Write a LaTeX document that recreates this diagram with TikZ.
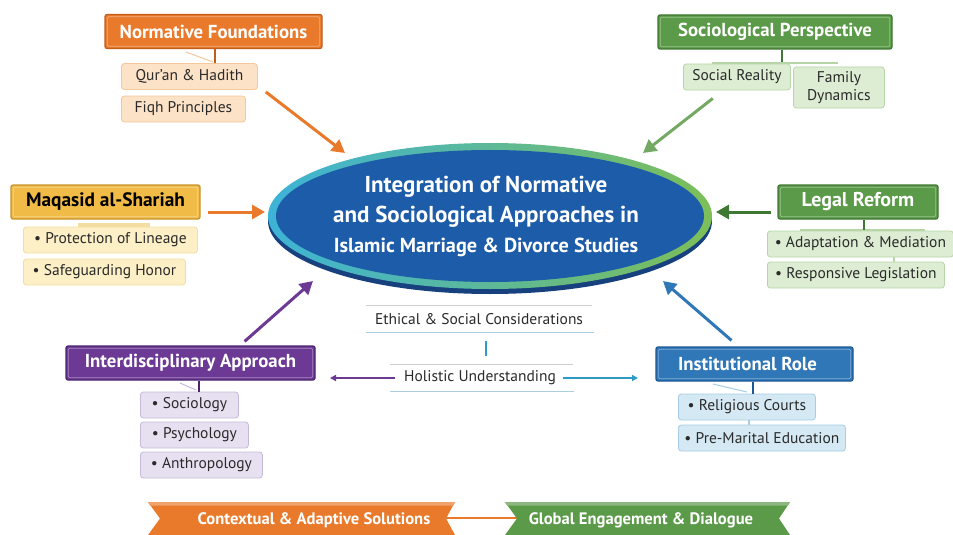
\documentclass[tikz,border=0pt]{standalone}
\usepackage{fontspec}
\setmainfont{PT Sans}
\usetikzlibrary{shapes.geometric,arrows.meta,calc}

% palette
\definecolor{orH}{HTML}{E97A2B}\definecolor{orD}{HTML}{C25E1A}
\definecolor{orL}{HTML}{FCE2C6}\definecolor{orB}{HTML}{F4C89C}
\definecolor{gdH}{HTML}{F1BB47}\definecolor{gdD}{HTML}{C8932A}
\definecolor{gdL}{HTML}{FDEFC6}\definecolor{gdB}{HTML}{F4DDA0}
\definecolor{grH}{HTML}{5B9A48}\definecolor{grD}{HTML}{3E7832}
\definecolor{grL}{HTML}{DDEDD3}\definecolor{grB}{HTML}{B8D5A8}
\definecolor{puH}{HTML}{6C3A95}\definecolor{puD}{HTML}{4D2370}
\definecolor{puL}{HTML}{E7E0F0}\definecolor{puB}{HTML}{C6BADB}
\definecolor{blH}{HTML}{2F77B7}\definecolor{blD}{HTML}{1D5895}
\definecolor{blL}{HTML}{D4E9F4}\definecolor{blB}{HTML}{A6CDE3}
\definecolor{core}{HTML}{1D5CA8}\definecolor{coreD}{HTML}{17407E}
\definecolor{ringL}{HTML}{3DB3D6}\definecolor{ringR}{HTML}{7DBE58}
\definecolor{txt}{HTML}{2A2A2A}
\definecolor{rule}{HTML}{CFCFCF}\definecolor{ruleB}{HTML}{A9CDE2}
\definecolor{teal}{HTML}{2E9BC7}

\tikzset{
  hdr/.style 2 args={draw=#2, fill=#1, line width=1.2pt, rounded corners=2pt,
    text=white, font=\bfseries\fontsize{18.8}{20}\selectfont,
    minimum height=34pt, inner xsep=0pt, inner ysep=0pt,
    path picture={\draw[white, opacity=0.4, line width=0.8pt, rounded corners=1.5pt]
      ([shift={(2.2pt,2.2pt)}]path picture bounding box.south west) rectangle
      ([shift={(-2.2pt,-2.2pt)}]path picture bounding box.north east);}},
  subbox/.style 2 args={draw=#2, fill=#1, line width=0.8pt, rounded corners=3pt,
    text=txt, font=\fontsize{15.5}{17}\selectfont, minimum height=26pt,
    inner xsep=6pt, inner ysep=0pt, anchor=west},
  tick/.style={draw=#1, line width=1.6pt},
  bigarrow/.style={draw=#1, line width=3pt,
    -{Triangle[length=13pt,width=14pt]}},
  thinarrow/.style={draw=#1, line width=2pt,
    -{Triangle[length=6pt,width=6pt]}},
  ribbontext/.style={text=white, font=\bfseries\fontsize{16.6}{18}\selectfont},
  midtext/.style={text=txt, font=\fontsize{15.5}{17}\selectfont},
}

\begin{document}
\begin{tikzpicture}[x=1pt,y=-1pt]
\fill[white] (0,0) rectangle (953,535);
\useasboundingbox (0,0) rectangle (953,535);

% ---------- central ellipse ----------
\fill[coreD] (490,221) ellipse [x radius=222, y radius=73];
\shade[left color=ringL, right color=ringR] (490,216) ellipse [x radius=222, y radius=73];
\fill[core] (490,216) ellipse [x radius=214, y radius=66];
\node[ellipse, minimum width=444pt, minimum height=148pt, inner sep=0pt] (core) at (490,217) {};
\node[text=white, font=\bfseries\fontsize{23}{30}\selectfont, align=center] (title) at (486,216)
  {Integration of Normative\\ and Sociological Approaches in\\
   {\fontsize{20.3}{30}\selectfont Islamic Marriage \& Divorce Studies}};

% ---------- Normative Foundations ----------
\node[hdr={orH}{orD}, minimum width=217pt] (nf) at (213.5,31.5) {Normative Foundations};
\node[subbox={orL}{orB}, minimum width=136pt] (quran) at (121,76.5) {Qur’an \& Hadith};
\node[subbox={orL}{orB}, minimum width=124pt] (fiqh) at (121,109) {Fiqh Principles};
\draw[tick=orD] (nf.south -| 215,0) -- (quran.north -| 215,0);
\draw[draw=orB, line width=1pt] (186,52) -- (213,62);

% ---------- Maqasid al-Shariah ----------
\node[hdr={gdH}{gdD}, minimum width=189pt, text=black,
      font=\bfseries\fontsize{19.4}{21}\selectfont] (ms) at (105.5,202) {Maqasid al-Shariah};
\node[subbox={gdL}{gdB}, minimum width=174pt] (lineage) at (23,240) {• Protection of Lineage};
\node[subbox={gdL}{gdB}, minimum width=162pt] (honor) at (23,272) {• Safeguarding Honor};
\fill[gdB] (78,223) rectangle (150,227);

% ---------- Sociological Perspective ----------
\node[hdr={grH}{grD}, minimum width=234pt] (sp) at (775,32) {Sociological Perspective};
\node[subbox={grL}{grB}, minimum width=107pt] (social) at (683,77) {Social Reality};
\node[subbox={grL}{grB}, minimum width=91pt, minimum height=41pt, align=center,
      font=\fontsize{15.5}{18}\selectfont] (family) at (793,87.5) {Family\\Dynamics};
\draw[tick=grD] (sp.south -| 782,0) -- (782,62);
\draw[draw=grB, line width=1.4pt] (712,63) -- (838,63);

% ---------- Legal Reform ----------
\node[hdr={grH}{grD}, minimum width=160pt,
      font=\bfseries\fontsize{20}{22}\selectfont] (lr) at (858,202) {Legal Reform};
\node[subbox={grL}{grB}, minimum width=186pt] (adapt) at (767,244) {• Adaptation \& Mediation};
\node[subbox={grL}{grB}, minimum width=177pt] (resp) at (767,275) {• Responsive Legislation};
\draw[draw=grB, line width=1.4pt] (800,230) -- (925,230);
\draw[tick=grD] (lr.south -| 864,0) -- (864,230);
\draw[draw=grB, line width=2pt] (adapt.south -| 894,0) -- (resp.north -| 894,0);

% ---------- Interdisciplinary Approach ----------
\node[hdr={puH}{puD}, minimum width=249pt] (ia) at (190.5,363) {Interdisciplinary Approach};
\node[subbox={puL}{puB}, minimum width=98pt] (soc) at (140,405) {• Sociology};
\node[subbox={puL}{puB}, minimum width=108pt] (psy) at (140,435) {• Psychology};
\node[subbox={puL}{puB}, minimum width=122pt] (ant) at (140,465) {• Anthropology};
\draw[tick=puD] (ia.south -| 199,0) -- (soc.north -| 199,0);
\draw[draw=puB, line width=1pt] (180,383) -- (196,390);

% ---------- Institutional Role ----------
\node[hdr={blH}{blD}, minimum width=197pt, text depth=0pt] (ir) at (754.5,364) {Institutional Role\hspace*{14pt}};
\node[subbox={blL}{blB}, minimum width=137pt] (courts) at (678,407) {• Religious Courts};
\node[subbox={blL}{blB}, minimum width=167pt] (premar) at (678,438) {• Pre-Marital Education};
\draw[tick=blD] (ir.south -| 753,0) -- (courts.north -| 753,0);
\draw[draw=blB, line width=1pt] (713,384) -- (747,392);
\draw[draw=blB, line width=2pt] (courts.south -| 749,0) -- (premar.north -| 749,0);

% ---------- arrows into the core ----------
\coordinate (tipNF) at (345,153);
\coordinate (tipMS) at (265,212);
\coordinate (tipSP) at (643,153);
\coordinate (tipLR) at (716,212);
\coordinate (tipIA) at (313,281);
\coordinate (tipIR) at (663,281);
\draw[bigarrow=orH] ([shift={(8,2)}]quran.south east) -- (tipNF);
\draw[bigarrow=orH] ([shift={(7,10)}]ms.east) -- (tipMS);
\draw[bigarrow=grH!85!white] ([shift={(-78,8)}]social.south east) -- (tipSP);
\draw[bigarrow=grD] ([shift={(-6,10)}]lr.west) -- (tipLR);
\draw[bigarrow=puH] ([shift={(-71,-4)}]ia.north east) -- (tipIA);
\draw[bigarrow=blH] ([shift={(-23,-6)}]ir.north) -- (tipIR);

% ---------- middle notes ----------
\node[midtext] (eth) at (479,319) {Ethical \& Social Considerations};
\draw[rule, line width=1pt] (366,305) -- (592,305);
\draw[ruleB, line width=1pt] (366,332) -- (594,332);
\node[midtext] (hol) at (480,378) {Holistic Understanding};
\draw[rule, line width=1pt] (390,364) -- (573,364);
\draw[ruleB, line width=1pt] (390,391) -- (574,391);
\draw[draw=teal, line width=2.5pt] (486,341) -- (486,356);
\coordinate (holL) at (330,378);
\coordinate (holR) at (638,378);
\draw[thinarrow=puH] ([xshift=-6pt]hol.west) -- (holL);
\draw[thinarrow=teal] ([xshift=4pt]hol.east) -- (holR);

% ---------- bottom ribbons ----------
\draw[draw=orH, line width=2.5pt] (446,518) -- (517,518);
\fill[orH] (148,502) -- (455,502) -- (446,518.5) -- (455,535) -- (148,535) -- (160,518.5) -- cycle;
\fill[orH!70!white] (148,502) -- (455,502) -- (453,505.5) -- (150,505.5) -- cycle;
\node[ribbontext] (ctx) at (314,520) {Contextual \& Adaptive Solutions};
\fill[grH] (505,502) -- (790,502) -- (779,518.5) -- (790,535) -- (505,535) -- (517,518.5) -- cycle;
\fill[grH!70!white] (505,502) -- (790,502) -- (788,505.5) -- (507,505.5) -- cycle;
\node[ribbontext] (glob) at (641,520) {Global Engagement \& Dialogue};
\end{tikzpicture}
\end{document}
